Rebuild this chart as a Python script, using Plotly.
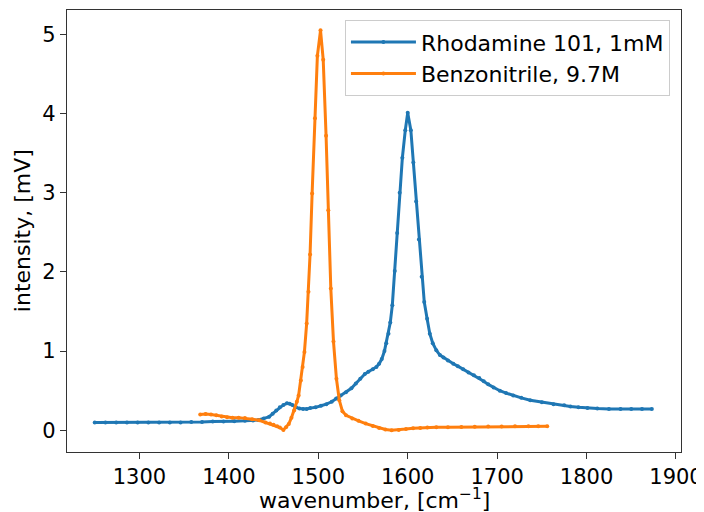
import plotly.graph_objects as go

rh_x = [1250, 1262, 1274, 1286, 1298, 1310, 1322, 1334, 1346, 1358, 1370, 1382, 1394, 1406, 1418,
        1427, 1433, 1439, 1445, 1449, 1453, 1457, 1461, 1465, 1468, 1471, 1475, 1479, 1483, 1487,
        1491, 1497, 1503, 1509, 1515, 1520, 1525, 1531, 1537, 1542, 1547, 1552, 1556, 1561, 1565,
        1568, 1571, 1574, 1576, 1578.5, 1580.5, 1582.8, 1585.5, 1588.2, 1591, 1594, 1597.3, 1600,
        1603.5, 1606.3, 1609.4, 1612.5, 1615.6, 1618.5, 1621.7, 1624.7, 1628, 1632, 1636, 1640,
        1645, 1651, 1656, 1662, 1668, 1674, 1680, 1685, 1690, 1696, 1703, 1710, 1718, 1727, 1737,
        1750, 1763, 1775, 1782, 1791, 1801, 1812, 1825, 1838, 1850, 1862, 1873]
rh_y = [0.10, 0.10, 0.10, 0.10, 0.10, 0.10, 0.10, 0.10, 0.10, 0.105, 0.105, 0.11, 0.11, 0.115, 0.12,
        0.125, 0.13, 0.15, 0.17, 0.21, 0.25, 0.29, 0.32, 0.34, 0.335, 0.32, 0.29, 0.275, 0.27, 0.27,
        0.28, 0.29, 0.31, 0.33, 0.36, 0.40, 0.44, 0.48, 0.53, 0.59, 0.65, 0.71, 0.74, 0.77, 0.80,
        0.84, 0.90, 1.00, 1.10, 1.22, 1.36, 1.58, 2.01, 2.49, 3.00, 3.44, 3.79, 4.01,
        3.79, 3.38, 2.89, 2.41, 1.94, 1.62, 1.41, 1.22, 1.10, 1.01, 0.95, 0.92,
        0.88, 0.84, 0.81, 0.77, 0.73, 0.695, 0.66, 0.62, 0.58, 0.54, 0.50, 0.47, 0.44, 0.41, 0.38,
        0.355, 0.33, 0.315, 0.30, 0.29, 0.28, 0.275, 0.27, 0.27, 0.27, 0.268, 0.27]

bz_x = [1368, 1374, 1380, 1386, 1392, 1398, 1404, 1411, 1418, 1426, 1434, 1441, 1446, 1450, 1454,
        1457, 1461, 1464, 1467, 1470, 1473, 1476, 1478, 1480.5, 1482.5, 1484.5, 1487, 1489, 1490.8,
        1493.1, 1496.3, 1499, 1502.5, 1505.5, 1508.7, 1511.2, 1514, 1517, 1520.3, 1523.5, 1527,
        1531, 1538, 1545, 1553, 1561, 1568, 1575, 1582, 1590, 1598, 1606, 1614, 1622, 1632, 1645,
        1660, 1675, 1690, 1705, 1720, 1735, 1746, 1756]
bz_y = [0.20, 0.205, 0.20, 0.19, 0.175, 0.165, 0.16, 0.16, 0.155, 0.14, 0.126, 0.10, 0.085, 0.07, 0.05,
        0.035, 0.005, 0.04, 0.08, 0.16, 0.25, 0.36, 0.44, 0.63, 0.80, 0.99, 1.35, 1.75, 2.22,
        2.99, 3.94, 4.73, 5.05, 4.68, 3.72, 2.78, 1.79, 1.12, 0.65, 0.38, 0.24,
        0.19, 0.15, 0.12, 0.085, 0.055, 0.03, 0.01, 0.0, 0.005, 0.015, 0.025, 0.03, 0.035, 0.04, 0.04,
        0.042, 0.045, 0.047, 0.048, 0.05, 0.05, 0.05, 0.05]

x_ticks = [1300, 1400, 1500, 1600, 1700, 1800, 1900]
y_ticks = [0, 1, 2, 3, 4, 5]

FONT = "DejaVu Sans"
FS = 22
TFS = 21

fig = go.Figure()
fig.add_trace(go.Scatter(x=rh_x, y=rh_y, mode="lines+markers", name="Rhodamine 101, 1mM",
                         line=dict(color="#1f77b4", width=3), marker=dict(size=4, color="#1f77b4")))
fig.add_trace(go.Scatter(x=bz_x, y=bz_y, mode="lines+markers", name="Benzonitrile, 9.7M",
                         line=dict(color="#ff7f0e", width=3), marker=dict(size=4, color="#ff7f0e")))

axis_common = dict(showline=True, mirror=True, linecolor="#333333", linewidth=1.2,
                   ticks="outside", ticklen=6, tickcolor="#333333", showgrid=False, zeroline=False,
                   automargin=False, tickfont=dict(family=FONT, size=TFS, color="black"))

# page body has an 8px default margin, so the figure is sized to fit the 704x512 window
fig.update_layout(
    width=696, height=504,
    margin=dict(l=59, r=23, t=2, b=60),
    paper_bgcolor="white", plot_bgcolor="white",
    font=dict(family=FONT, size=FS, color="black"),
    xaxis=dict(range=[1219, 1905.6], tickvals=x_ticks, ticktext=[str(v) for v in x_ticks], **axis_common),
    yaxis=dict(range=[-0.274, 5.307], tickvals=y_ticks, ticktext=[str(v) for v in y_ticks], **axis_common),
    legend=dict(x=0.982, y=0.977, xanchor="right", yanchor="top", bgcolor="rgba(255,255,255,0.8)",
                bordercolor="#cccccc", borderwidth=1, font=dict(family=FONT, size=FS),
                tracegroupgap=0, itemwidth=65),
    showlegend=True,
    annotations=[
        dict(text="wavenumber, [cm<sup>−1</sup>]", xref="paper", yref="paper", x=0.5, y=-0.106,
             xanchor="center", yanchor="middle", showarrow=False, font=dict(family=FONT, size=FS)),
        dict(text="intensity, [mV]", xref="paper", yref="paper", x=-0.073, y=0.5, textangle=-90,
             xanchor="center", yanchor="middle", showarrow=False, font=dict(family=FONT, size=FS)),
    ],
)

fig.write_html("out.html")
